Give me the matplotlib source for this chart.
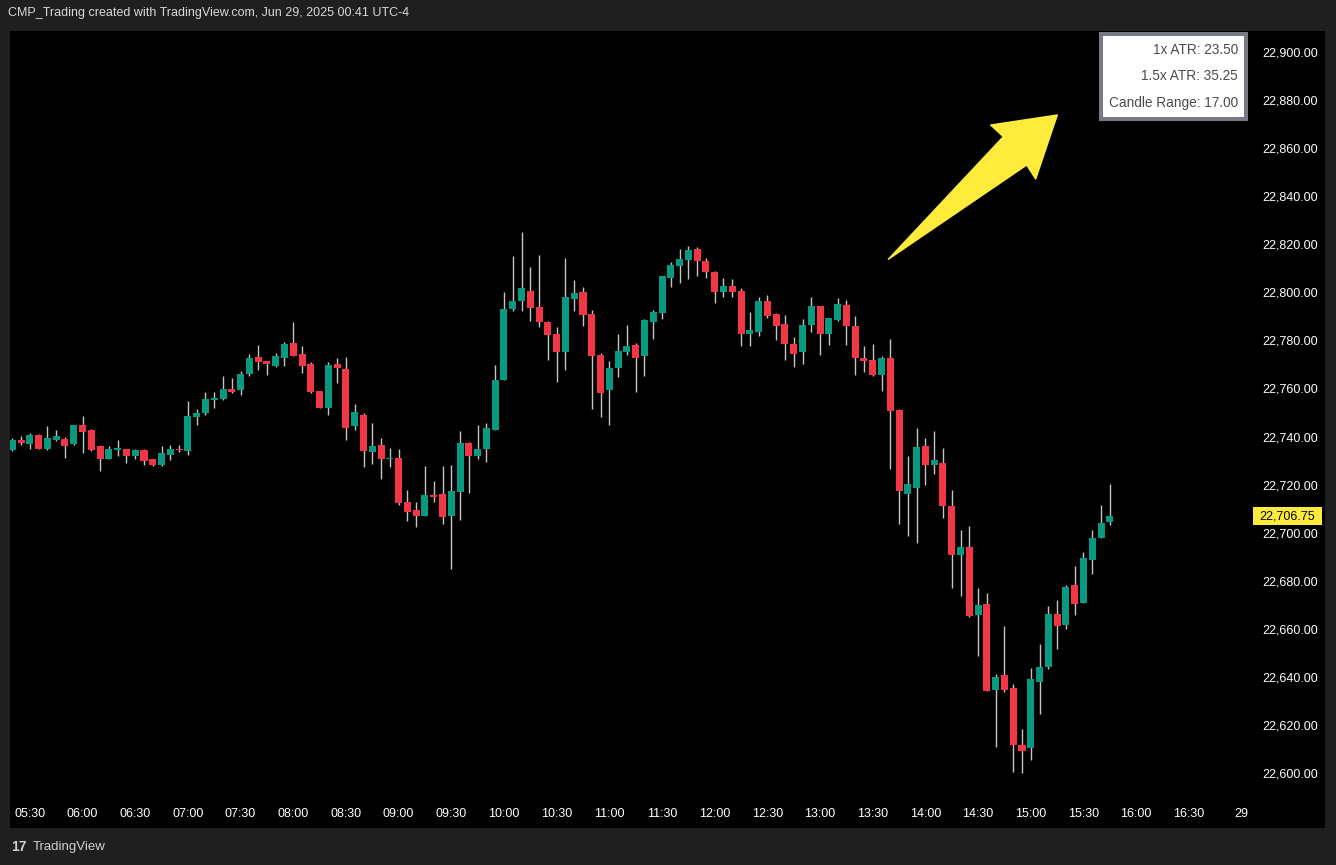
import matplotlib
matplotlib.use('Agg')
import matplotlib.pyplot as plt
from matplotlib.patches import Rectangle, Polygon
from matplotlib.transforms import blended_transform_factory

plt.rcParams['font.family'] = ['Liberation Sans', 'DejaVu Sans']

# 5-minute candles, first one at 05:20
opens = [22734.5, 22738.5, 22737.0, 22740.5, 22735.0, 22738.75, 22739.0, 22737.0, 22744.75, 22742.75,
         22736.0, 22730.75, 22734.5, 22734.75, 22732.0, 22734.5, 22730.5, 22728.25, 22732.25, 22734.75,
         22734.0, 22748.0, 22749.75, 22755.25, 22755.5, 22759.75, 22759.5, 22766.0, 22773.0, 22771.25,
         22769.5, 22772.75, 22779.0, 22774.25, 22770.25, 22759.0, 22752.0, 22770.25, 22768.0, 22744.5,
         22749.0, 22733.5, 22736.5, 22730.5, 22731.0, 22712.75, 22709.5, 22707.0, 22715.75, 22716.0,
         22707.0, 22717.0, 22737.25, 22732.0, 22734.75, 22742.75, 22763.5, 22793.0, 22796.5, 22800.5,
         22794.0, 22787.75, 22782.75, 22775.25, 22797.25, 22800.0, 22791.0, 22774.0, 22759.5, 22768.5,
         22775.25, 22778.0, 22773.5, 22787.5, 22791.5, 22806.0, 22811.0, 22813.5, 22818.0, 22813.0,
         22808.5, 22800.25, 22802.5, 22800.5, 22782.75, 22783.5, 22796.5, 22791.0, 22786.75, 22778.5,
         22775.0, 22786.5, 22794.25, 22782.5, 22788.5, 22794.75, 22786.0, 22772.75, 22771.75, 22765.75,
         22772.75, 22751.0, 22716.25, 22718.75, 22736.0, 22728.25, 22729.0, 22711.25, 22690.5, 22694.0,
         22665.75, 22670.25, 22634.5, 22640.75, 22635.5, 22611.5, 22610.5, 22638.0, 22644.0, 22666.25,
         22661.5, 22678.25, 22670.75, 22688.5, 22697.75, 22704.25]
highs = [22739.5, 22740.25, 22741.5, 22741.25, 22744.5, 22742.75, 22739.75, 22744.75, 22748.5, 22743.0,
         22736.0, 22736.0, 22738.5, 22734.75, 22735.0, 22735.0, 22730.5, 22736.0, 22736.5, 22736.5,
         22754.75, 22751.5, 22758.5, 22758.5, 22765.25, 22764.5, 22767.25, 22774.25, 22778.0, 22771.5,
         22774.75, 22779.25, 22787.75, 22777.75, 22771.0, 22759.0, 22771.0, 22772.75, 22773.0, 22753.5,
         22749.75, 22745.5, 22739.5, 22735.25, 22734.75, 22717.75, 22712.75, 22727.75, 22721.5, 22727.75,
         22728.25, 22742.25, 22737.75, 22744.75, 22745.5, 22769.75, 22800.0, 22815.0, 22825.0, 22810.5,
         22815.5, 22788.0, 22785.5, 22814.25, 22805.0, 22802.25, 22792.5, 22774.75, 22771.5, 22782.75,
         22786.5, 22779.0, 22789.0, 22792.5, 22806.75, 22812.5, 22818.0, 22819.25, 22819.0, 22814.25,
         22809.0, 22806.0, 22805.5, 22801.75, 22791.75, 22798.0, 22799.0, 22791.5, 22790.5, 22781.5,
         22789.0, 22798.0, 22794.25, 22789.25, 22797.5, 22797.0, 22790.0, 22777.75, 22778.5, 22773.5,
         22780.5, 22751.5, 22732.0, 22743.5, 22739.5, 22742.25, 22735.25, 22717.75, 22701.0, 22702.75,
         22677.0, 22675.0, 22641.25, 22661.25, 22637.0, 22618.25, 22643.75, 22653.75, 22669.5, 22672.0,
         22678.25, 22686.0, 22692.0, 22701.0, 22711.5, 22720.25]
lows = [22734.0, 22736.5, 22735.0, 22735.0, 22734.5, 22738.0, 22731.25, 22736.5, 22733.0, 22734.0,
        22725.5, 22730.5, 22732.0, 22729.0, 22730.5, 22728.25, 22727.75, 22727.75, 22730.25, 22733.5,
        22732.25, 22744.75, 22749.0, 22752.0, 22755.25, 22758.0, 22757.25, 22765.25, 22767.75, 22765.5,
        22769.0, 22769.5, 22773.5, 22766.5, 22758.0, 22752.0, 22749.0, 22762.25, 22738.5, 22742.75,
        22727.25, 22728.5, 22722.25, 22727.25, 22711.5, 22705.0, 22702.5, 22707.0, 22712.75, 22703.5,
        22685.0, 22705.25, 22716.5, 22730.75, 22729.5, 22742.75, 22763.5, 22792.25, 22792.25, 22788.0,
        22785.5, 22771.75, 22762.75, 22767.75, 22792.25, 22786.0, 22751.5, 22748.0, 22744.75, 22764.75,
        22774.0, 22758.5, 22765.25, 22780.5, 22789.0, 22802.25, 22804.0, 22805.5, 22806.75, 22806.0,
        22795.5, 22798.25, 22798.25, 22777.75, 22777.75, 22782.0, 22789.5, 22780.0, 22772.0, 22769.0,
        22770.0, 22783.5, 22774.0, 22778.25, 22788.25, 22778.0, 22765.75, 22767.0, 22765.25, 22758.75,
        22726.5, 22703.75, 22698.75, 22695.75, 22720.0, 22724.5, 22706.0, 22677.0, 22673.75, 22665.0,
        22648.75, 22634.0, 22611.0, 22633.75, 22600.5, 22600.0, 22605.5, 22624.75, 22643.25, 22651.5,
        22660.0, 22665.75, 22670.75, 22682.75, 22697.75, 22703.25]
closes = [22738.5, 22737.5, 22740.5, 22735.0, 22739.5, 22740.25, 22736.25, 22744.75, 22742.0, 22734.5,
          22730.5, 22734.75, 22735.25, 22732.0, 22734.5, 22730.0, 22728.25, 22733.0, 22734.75, 22734.5,
          22748.5, 22749.75, 22755.5, 22756.0, 22759.75, 22758.5, 22766.0, 22772.75, 22771.0, 22770.25,
          22773.5, 22778.5, 22773.5, 22769.5, 22758.5, 22752.0, 22769.75, 22768.5, 22743.5, 22750.25,
          22734.0, 22736.0, 22730.5, 22730.75, 22712.25, 22708.5, 22707.0, 22715.75, 22714.75, 22706.5,
          22717.25, 22737.25, 22732.0, 22734.75, 22743.5, 22763.5, 22793.0, 22796.5, 22801.75, 22793.5,
          22787.75, 22782.25, 22775.25, 22798.0, 22799.75, 22790.5, 22773.5, 22758.0, 22768.5, 22775.5,
          22777.75, 22772.75, 22788.5, 22791.75, 22806.75, 22811.5, 22814.0, 22817.5, 22813.0, 22808.5,
          22800.25, 22802.5, 22800.25, 22782.75, 22784.25, 22796.5, 22790.25, 22786.0, 22778.5, 22774.5,
          22786.5, 22794.25, 22782.5, 22789.25, 22795.0, 22786.0, 22772.75, 22771.5, 22765.75, 22772.75,
          22750.75, 22717.5, 22720.25, 22735.75, 22728.25, 22730.25, 22711.25, 22690.5, 22694.0, 22665.5,
          22670.0, 22634.0, 22640.0, 22634.5, 22611.5, 22609.25, 22639.0, 22644.0, 22666.25, 22661.25,
          22677.5, 22670.25, 22689.5, 22697.75, 22704.0, 22706.75]

time_labels = ['05:30', '06:00', '06:30', '07:00', '07:30', '08:00', '08:30', '09:00', '09:30',
               '10:00', '10:30', '11:00', '11:30', '12:00', '12:30', '13:00', '13:30', '14:00',
               '14:30', '15:00', '15:30', '16:00', '16:30', '29']
price_ticks = list(range(22600, 22901, 20))
atr_lines = ['1x ATR: 23.50', '1.5x ATR: 35.25', 'Candle Range: 17.00']

UP, DOWN, WICK = '#089981', '#f23645', '#c4c4c4'
W, H = 1336, 865


def fx(px):
    return px / W


def fy(py):
    return 1 - py / H


fig = plt.figure(figsize=(W / 100, H / 100), dpi=100, facecolor='#1f1f1f')
fig.add_artist(Rectangle((fx(10), fy(828)), (1325 - 10) / W, (828 - 31) / H,
                         transform=fig.transFigure, facecolor='black', edgecolor='none', zorder=0))

ax = fig.add_axes([fx(10), fy(800), (1248 - 10) / W, (800 - 31) / H])
ax.patch.set_alpha(0)

idx = list(range(len(opens)))
colors = [UP if c >= o else DOWN for o, c in zip(opens, closes)]
ax.vlines(idx, lows, highs, color=WICK, linewidth=1, zorder=2)
bottoms = [min(o, c) for o, c in zip(opens, closes)]
heights = [max(abs(c - o), 0.45) for o, c in zip(opens, closes)]
ax.bar(idx, heights, bottom=bottoms, width=0.8, color=colors, linewidth=0, zorder=3)

ax.set_xlim(-0.262, 140.74)
ax.set_ylim(22588.76, 22908.74)
for s in ax.spines.values():
    s.set_visible(False)

ax.set_xticks([2 + 6 * k for k in range(len(time_labels))])
ax.set_xticklabels(time_labels)
ax.tick_params(axis='x', length=0, pad=6, labelsize=9, colors='white')
ax.yaxis.tick_right()
ax.set_yticks(price_ticks)
ax.set_yticklabels([f'{v:,.2f}' for v in price_ticks])
ax.tick_params(axis='y', length=0, pad=10, labelsize=9, colors='white')

# last price label
trans = blended_transform_factory(fig.transFigure, ax.transData)
last = closes[-1]
fig.add_artist(Rectangle((fx(1253), last - 3.75), 69 / W, 7.5, transform=trans,
                         facecolor='#ffeb3b', edgecolor='none', zorder=5))
fig.text(fx(1287.5), last, f'{last:,.2f}', transform=trans, ha='center', va='center',
         fontsize=9, color='black', zorder=6)

# ATR info box
fig.add_artist(Rectangle((fx(1101), fy(119)), 145 / W, 85 / H, transform=fig.transFigure,
                         facecolor='white', edgecolor='#787b86', linewidth=2.9, zorder=5))
for t, py in zip(atr_lines, [50, 76.5, 103]):
    fig.text(fx(1238), fy(py), t, ha='right', va='center', fontsize=9.8, color='#4a4a4a', zorder=6)

# yellow arrow
arrow_px = [(888.3, 259.3), (1003.3, 136.7), (990.7, 125), (1057.3, 115), (1035.7, 179), (1026.7, 165)]
fig.add_artist(Polygon([(fx(x), fy(y)) for x, y in arrow_px], closed=True, transform=fig.transFigure,
                       facecolor='#ffeb3b', edgecolor='#ffeb3b', linewidth=1, joinstyle='round', zorder=5))

fig.text(fx(8), fy(13), 'CMP_Trading created with TradingView.com, Jun 29, 2025 00:41 UTC-4',
         ha='left', va='center', fontsize=9, color='#d8d8d8')
fig.text(fx(11), fy(847), '17', ha='left', va='center', fontsize=10, fontweight='bold', color='#d0d0d0')
fig.text(fx(33), fy(847), 'TradingView', ha='left', va='center', fontsize=9.5, color='#d0d0d0')

fig.savefig('out.png', dpi=100, facecolor=fig.get_facecolor())
